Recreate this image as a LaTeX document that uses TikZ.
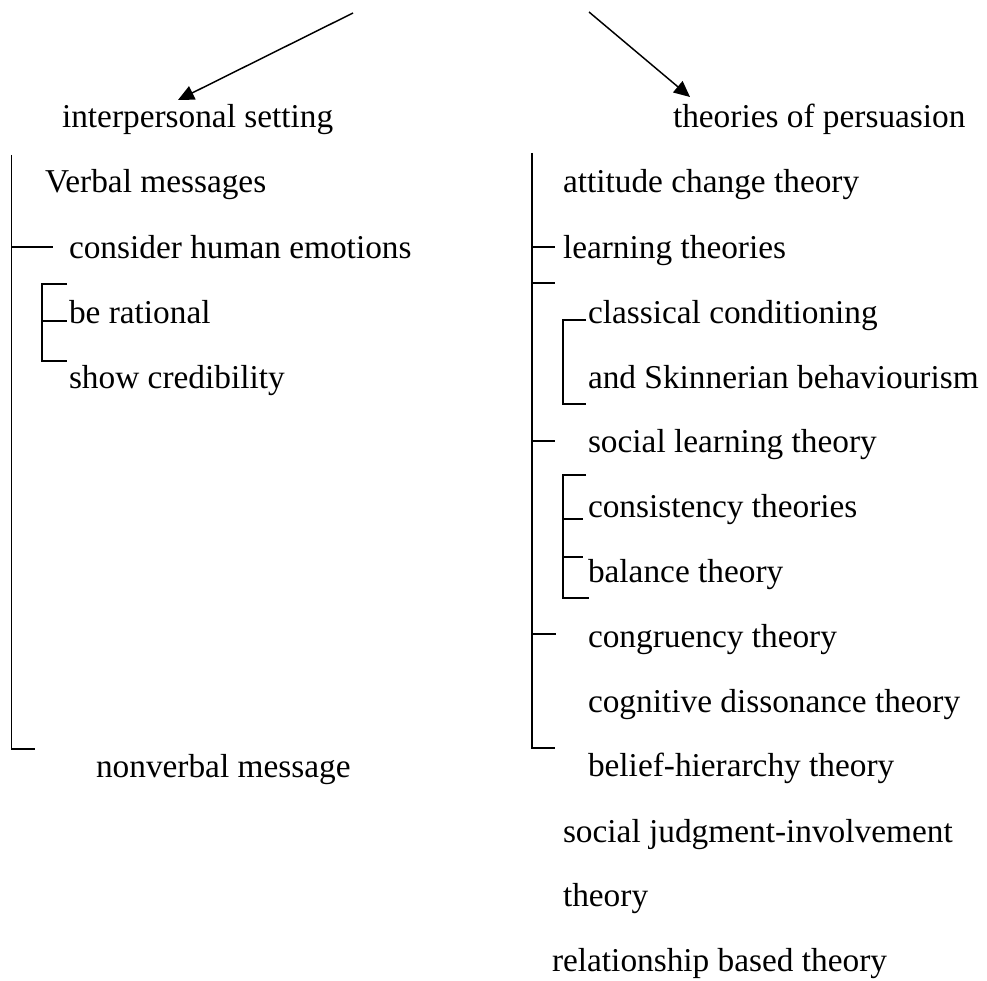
\documentclass[tikz,border=0pt]{standalone}
\usepackage{fontspec}
\setmainfont{Liberation Serif}
\usetikzlibrary{arrows.meta}
\tikzset{
  lbl/.style={anchor=base west, inner sep=0pt, outer sep=0pt, font=\fontsize{25pt}{30pt}\selectfont},
  ln/.style={line width=0.9pt},
  arr/.style={line width=1.1pt, -{Triangle[length=12pt,width=11pt]}}
}
\begin{document}
\begin{tikzpicture}[x=0.75pt,y=-0.75pt]
\useasboundingbox (0,0) rectangle (987,980);
% headings
\node[lbl] (hl) at (62,128) {interpersonal setting};
\node[lbl] (hr) at (673,128) {theories of persuasion};
\coordinate (srcL) at (353,13);
\coordinate (tipL) at (178,100);
\coordinate (srcR) at (589,12);
\coordinate (tipR) at (690,97);
\draw[arr] (srcL) -- (tipL);
\draw[arr] (srcR) -- (tipR);
% left column
\node[lbl] (l1) at (45,193) {Verbal messages};
\node[lbl] (l2) at (69,258) {consider human emotions};
\node[lbl] (l3) at (69,323) {be rational};
\node[lbl] (l4) at (69,388) {show credibility};
\node[lbl] (l5) at (96,777) {nonverbal message};
\draw[ln] (11.5,155) -- (11.5,749) -- (35,749);
\draw[ln] (11.5,247) -- (53,247);
\draw[ln] (67,284) -- (42,284) -- (42,361) -- (67,361);
\draw[ln] (42,321) -- (67,321);
% right column
\node[lbl] (r1) at (563,193) {attitude change theory};
\node[lbl] (r2) at (563,258) {learning theories};
\node[lbl] (r3) at (588,323) {classical conditioning};
\node[lbl] (r4) at (588,388) {and Skinnerian behaviourism};
\node[lbl] (r5) at (588,452) {social learning theory};
\node[lbl] (r6) at (588,517) {consistency theories};
\node[lbl] (r7) at (588,582) {balance theory};
\node[lbl] (r8) at (588,647) {congruency theory};
\node[lbl] (r9) at (588,712) {cognitive dissonance theory};
\node[lbl] (r10) at (588,776) {belief-hierarchy theory};
\node[lbl] (r11) at (563,842) {social judgment-involvement};
\node[lbl] (r12) at (563,906) {theory};
\node[lbl] (r13) at (552,971) {relationship based theory};
\draw[ln] (532,153) -- (532,748) -- (555,748);
\draw[ln] (532,247) -- (555,247);
\draw[ln] (532,283) -- (555,283);
\draw[ln] (532,441) -- (555,441);
\draw[ln] (532,634) -- (556,634);
\draw[ln] (586,320) -- (563,320) -- (563,404) -- (586,404);
\draw[ln] (586,475) -- (563,475) -- (563,598) -- (589,598);
\draw[ln] (563,519) -- (583,519);
\draw[ln] (563,557) -- (583,557);
\end{tikzpicture}
\end{document}
